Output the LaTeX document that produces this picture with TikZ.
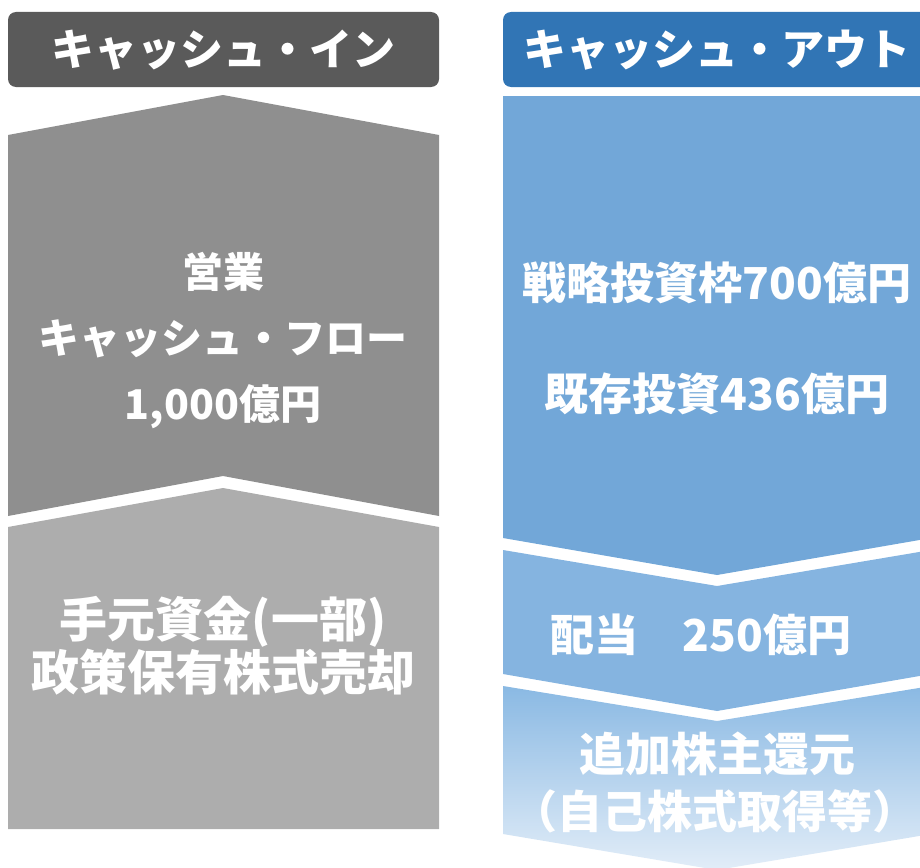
\documentclass[tikz,border=0pt]{standalone}
\usepackage{fontspec}
\newfontfamily\jp{Noto Sans CJK JP}
\definecolor{hdrgray}{HTML}{5A5A5A}
\definecolor{upgray}{HTML}{8F8F8F}
\definecolor{lowgray}{HTML}{ADADAD}
\definecolor{hdrblue}{HTML}{3175B5}
\definecolor{upblue}{HTML}{72A7D8}
\definecolor{midblue}{HTML}{85B4E0}
\definecolor{lowblueA}{HTML}{8AB9E3}
\definecolor{lowblueB}{HTML}{E2EDF8}
\tikzset{
  hdrtext/.style={text=white,font=\jp\bfseries\fontsize{43}{50}\selectfont,inner sep=0pt},
  bodytext/.style={text=white,font=\jp\bfseries\fontsize{41}{66}\selectfont,inner sep=0pt,align=center},
  bodytextB/.style={text=white,font=\jp\bfseries\fontsize{44}{53}\selectfont,inner sep=0pt,align=center},
  bodytextC/.style={text=white,font=\jp\bfseries\fontsize{48}{53}\selectfont,inner sep=0pt,align=center},
  bodytextD/.style={text=white,font=\jp\bfseries\fontsize{46}{57}\selectfont,inner sep=0pt,align=center}
}
\begin{document}
\begin{tikzpicture}[x=1pt,y=-1pt]
\useasboundingbox (0,0) rectangle (920,867);
\begin{scope}
\clip (0,0) rectangle (920,867);
% headers
\fill[hdrgray,rounded corners=8pt] (8,12) rectangle (439,87);
\fill[hdrblue,rounded corners=8pt] (503,12) rectangle (960,87);
% left column
\fill[upgray] (8,135) -- (223,95) -- (439,135) -- (439,516) -- (223,476) -- (8,516) -- cycle;
\fill[lowgray] (8,527) -- (223,488) -- (439,527) -- (439,829) -- (8,829) -- cycle;
% right column
\fill[upblue] (503,96) -- (931,96) -- (931,538) -- (717,575) -- (503,538) -- cycle;
\fill[midblue] (503,550) -- (717,586) -- (931,550) -- (931,674) -- (717,711) -- (503,674) -- cycle;
\shade[top color=lowblueA,bottom color=lowblueB] (503,686) -- (717,721) -- (931,686) -- (931,834) -- (717,870) -- (503,834) -- cycle;
\end{scope}
% texts
\node[hdrtext] (hin) at (223,50) {キャッシュ・イン};
\node[hdrtext] (hout) at (717,50) {キャッシュ・アウト};
\node[bodytext] (op) at (223,341) {営業\\キャッシュ・フロー\\1,000億円};
\node[bodytextC] (fund) at (223,646) {手元資金(一部)\\政策保有株式売却};
\node[bodytextB] (strat) at (717,283) {戦略投資枠700億円};
\node[bodytextB] (exist) at (717,394) {既存投資436億円};
\node[bodytextB] (div) at (701,635) {配当　250億円};
\node[bodytextD] (ret1) at (717,754) {追加株主還元};
\node[bodytextD,font=\jp\bfseries\fontsize{45}{57}\selectfont] (ret2) at (715,811) {（自己株式取得等）};
\end{tikzpicture}
\end{document}
